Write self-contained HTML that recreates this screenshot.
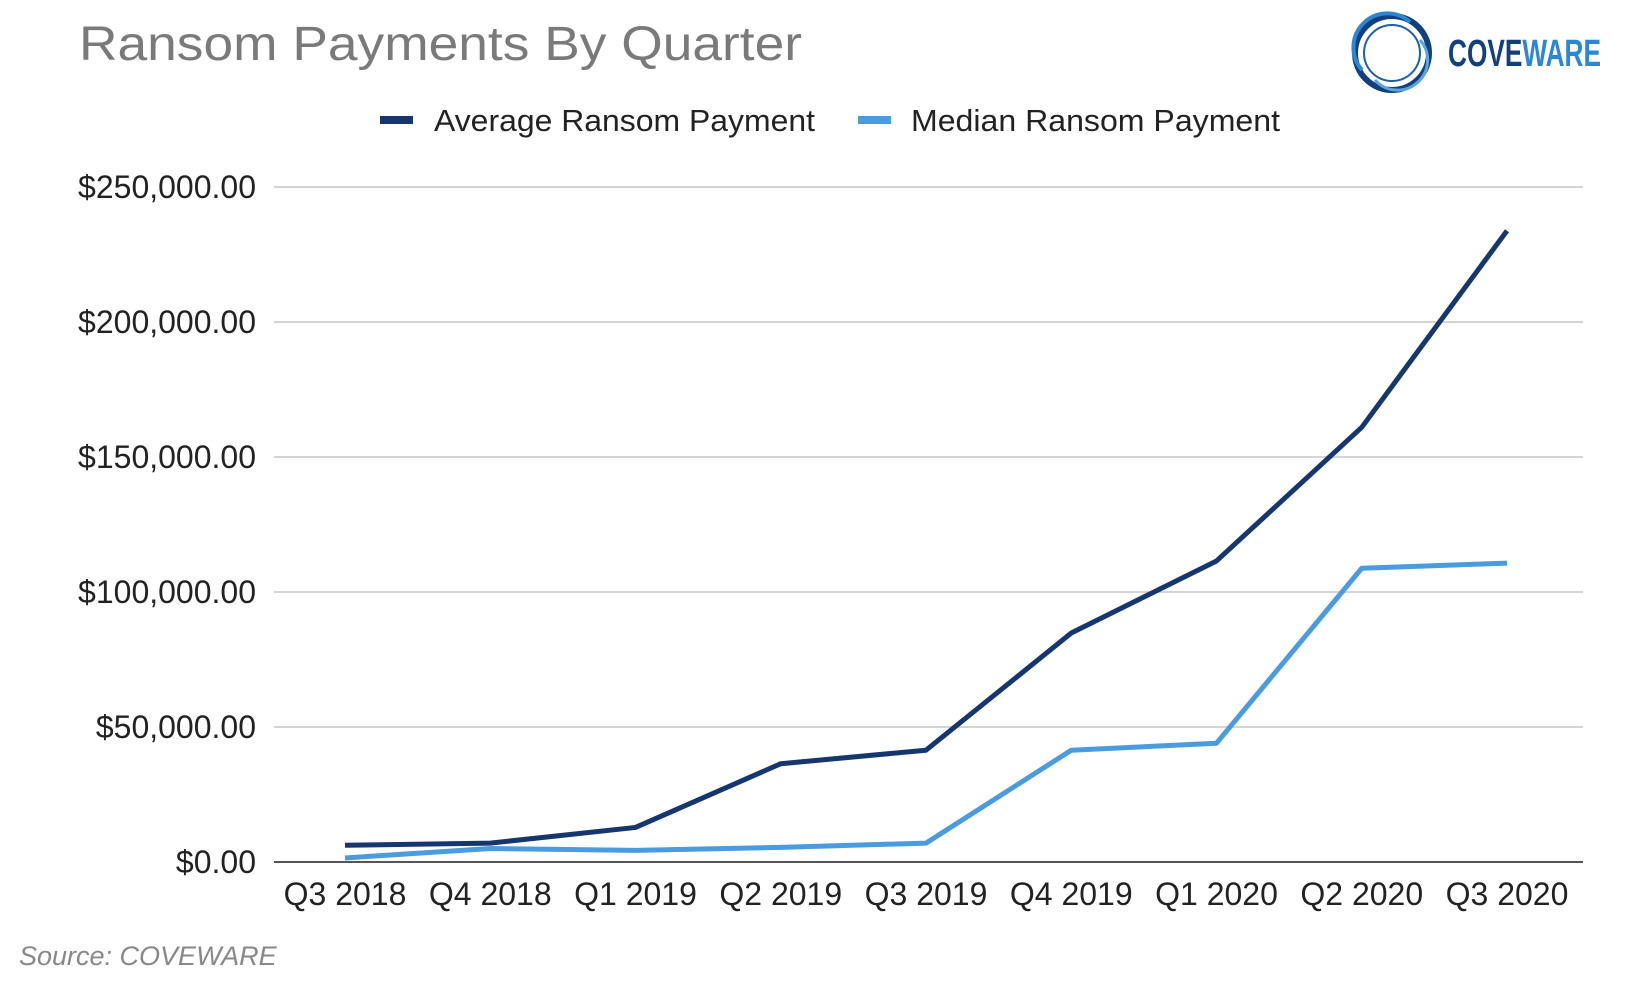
<!DOCTYPE html>
<html><head><meta charset="utf-8"><style>
html,body{margin:0;padding:0;background:#fff;}
body{width:1639px;height:994px;overflow:hidden;font-family:"Liberation Sans",sans-serif;}
</style></head><body>
<svg id="chart" width="1639" height="994" xmlns="http://www.w3.org/2000/svg" font-family="Liberation Sans, sans-serif">
<text x="79" y="60" font-size="48" fill="#7a7a7a" textLength="723" lengthAdjust="spacingAndGlyphs">Ransom Payments By Quarter</text>
<g>
<circle cx="1392" cy="53" r="37" fill="none" stroke="#123f7e" stroke-width="6"/>
<path d="M1362 70 A34 34 0 0 1 1410 22" fill="none" stroke="#2f86d0" stroke-width="4"/>
<path d="M1420 40 A30 30 0 0 1 1375 80" fill="none" stroke="#5aa7e0" stroke-width="3"/>
<circle cx="1392" cy="53" r="28" fill="none" stroke="#1d5fa8" stroke-width="2"/>
<text x="1448" y="66" font-size="38" font-weight="bold" fill="#123f7e" textLength="153" lengthAdjust="spacingAndGlyphs">COVE<tspan fill="#2b86d3">WARE</tspan></text>
</g>
<g>
<rect x="380" y="116" width="33" height="8" fill="#15366e"/>
<text x="434" y="131" font-size="31" fill="#222" textLength="381" lengthAdjust="spacingAndGlyphs">Average Ransom Payment</text>
<rect x="858" y="116" width="33" height="8" fill="#4a9be0"/>
<text x="911" y="131" font-size="31" fill="#222" textLength="369" lengthAdjust="spacingAndGlyphs">Median Ransom Payment</text>
</g>
<g id="grid"></g><g id="yt"></g><g id="xt"></g><g id="lines"></g>
<text x="19" y="965" font-size="27" font-style="italic" fill="#888">Source: COVEWARE</text>
</svg>
<script>
const categories=["Q3 2018","Q4 2018","Q1 2019","Q2 2019","Q3 2019","Q4 2019","Q1 2020","Q2 2020","Q3 2020"];
const averageValues=[6200,7000,12800,36400,41400,84800,111500,161000,233800];
const medianValues=[1500,5000,4300,5400,7000,41400,44000,108800,110700];
const yTicks=[0,50000,100000,150000,200000,250000];
const yTickLabels=["$0.00","$50,000.00","$100,000.00","$150,000.00","$200,000.00","$250,000.00"];
const NS="http://www.w3.org/2000/svg";
const y0=862,y1=187,yMax=250000,xL=274,xR=1583,xFirst=345,xStep=145.25;
function yS(v){return y0-(v/yMax)*(y0-y1);}
function xS(i){return xFirst+i*xStep;}
function mk(t,a,p){const e=document.createElementNS(NS,t);for(const k in a)e.setAttribute(k,a[k]);p.appendChild(e);return e;}
const grid=document.getElementById('grid'),yt=document.getElementById('yt'),xt=document.getElementById('xt'),lines=document.getElementById('lines');
yTicks.forEach((v,i)=>{
 const l=mk('line',{x1:xL,x2:xR,y1:yS(v),y2:yS(v),stroke:i===0?'#555':'#d4d4d4','stroke-width':2},grid);
 
 
 const t=mk('text',{x:256,y:yS(v)+11,'text-anchor':'end','font-size':32,fill:'#222'},yt);
 t.textContent=yTickLabels[i];
 
 
});
categories.forEach((c,i)=>{
 const t=mk('text',{x:xS(i),y:905,'text-anchor':'middle','font-size':32,fill:'#222'},xt);
 t.textContent=c;
 
 
});
function line(vals,color,name){
 const p=mk('polyline',{points:vals.map((v,i)=>xS(i)+','+yS(v)).join(' '),fill:'none',stroke:color,'stroke-width':5,'stroke-linejoin':'round'},lines);
 
 
}
line(medianValues,'#4a9be0','median-line');
line(averageValues,'#15366e','average-line');
</script>
</body></html>
